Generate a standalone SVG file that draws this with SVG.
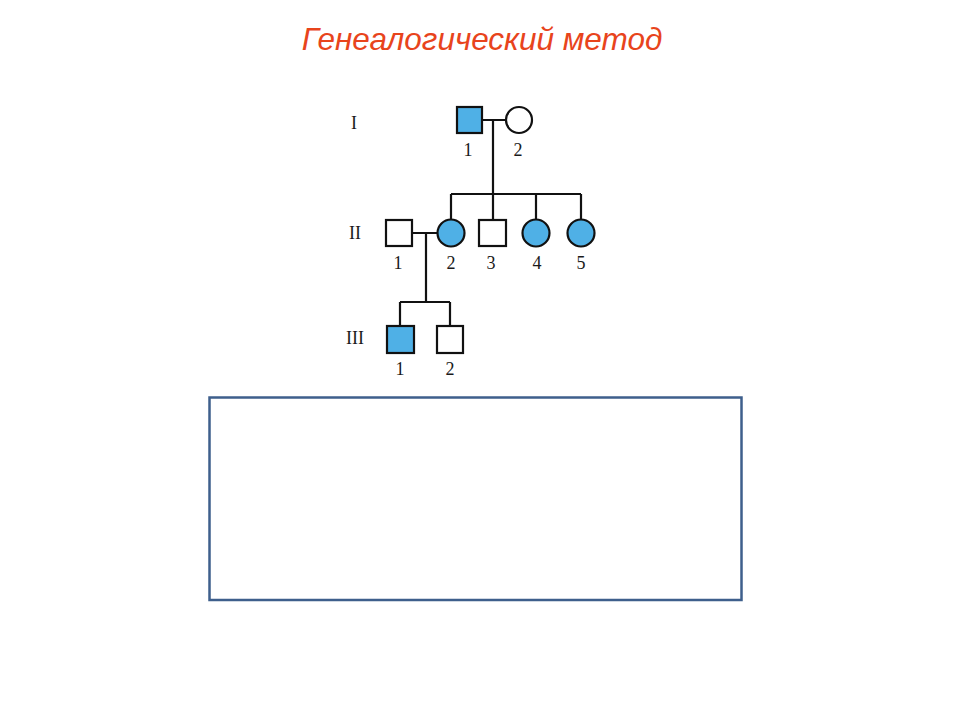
<svg xmlns="http://www.w3.org/2000/svg" width="960" height="720" viewBox="0 0 960 720">
<style>
.t{font-family:"Liberation Sans",Arial,sans-serif;font-style:italic;font-size:31.5px;fill:#e8441c}
.n{font-family:"Liberation Serif","Times New Roman",serif;font-size:18px;fill:#1a1a1a;text-anchor:middle}
.g{font-family:"Liberation Serif","Times New Roman",serif;font-size:18px;fill:#1a1a1a;text-anchor:middle}
.aff{fill:#4fb0e6;stroke:#111;stroke-width:2.2}
.un{fill:#fff;stroke:#111;stroke-width:2.2}
.ln{stroke:#111;stroke-width:2.2;fill:none}
</style>
<rect width="960" height="720" fill="#fff"/>
<text class="t" x="482" y="50" text-anchor="middle">Генеалогический метод</text>
<g id="labels">
<text class="g" x="354" y="129">I</text>
<text class="g" x="355" y="239">II</text>
<text class="g" x="355" y="344">III</text>
</g>
<g id="connectors">
<path class="ln" d="M482,120H506M493,120V194M451,194H581M451,194V219M493,194V220M536,194V219M581,194V219"/>
<path class="ln" d="M412,233H437M426,233V302M400,302H450M400,302V326M450,302V326"/>
</g>
<g id="I-1"><rect class="aff" x="457" y="107" width="25" height="26"/><text class="n" x="468" y="156">1</text></g>
<g id="I-2"><circle class="un" cx="519" cy="120" r="13"/><text class="n" x="518" y="156">2</text></g>
<g id="II-1"><rect class="un" x="386" y="220" width="26" height="26"/><text class="n" x="398" y="269">1</text></g>
<g id="II-2"><circle class="aff" cx="451" cy="233" r="13.5"/><text class="n" x="451" y="269">2</text></g>
<g id="II-3"><rect class="un" x="479" y="220" width="27" height="26"/><text class="n" x="491" y="269">3</text></g>
<g id="II-4"><circle class="aff" cx="536" cy="233" r="13.5"/><text class="n" x="537" y="269">4</text></g>
<g id="II-5"><circle class="aff" cx="581" cy="233" r="13.5"/><text class="n" x="581" y="269">5</text></g>
<g id="III-1"><rect class="aff" x="387" y="326" width="27" height="27"/><text class="n" x="400" y="375">1</text></g>
<g id="III-2"><rect class="un" x="437" y="326" width="26" height="27"/><text class="n" x="450" y="375">2</text></g>
<g id="box"><rect x="209.5" y="397.5" width="532" height="202.5" fill="none" stroke="#3e5f8c" stroke-width="2.5"/></g>
</svg>
